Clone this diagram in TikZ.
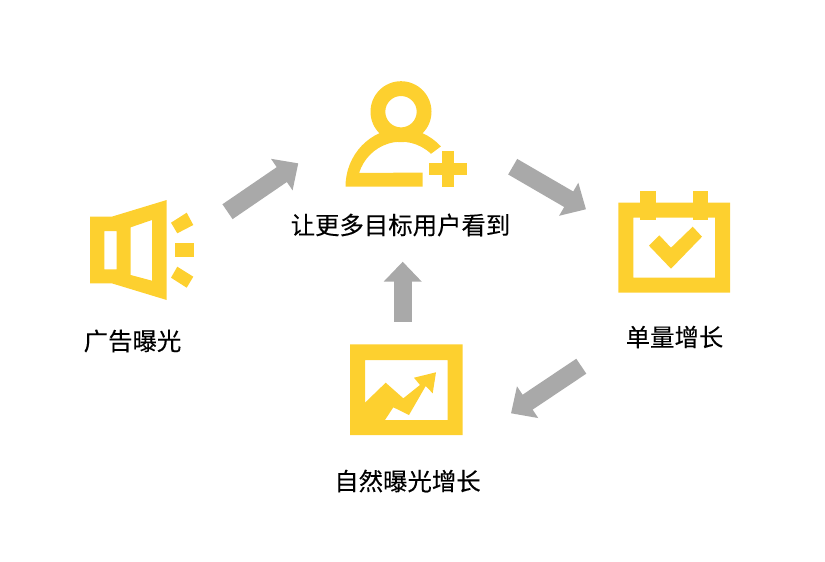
\documentclass[tikz,border=0pt]{standalone}
\usepackage{fontspec}
\usepackage{xcolor}
\usepackage{tikz}
\usetikzlibrary{arrows.meta, positioning}
\newfontfamily\cjk[FakeBold=0.15]{Noto Sans CJK SC}
\definecolor{iconyellow}{HTML}{FDD02F}
\definecolor{arrowgray}{HTML}{A9A9A9}
\tikzset{
  icon/.style={fill=iconyellow, even odd rule},
  grayarrow/.style={draw=arrowgray, line width=18pt, -{Triangle[length=20pt,width=37pt,fill=arrowgray]}},
  caption/.style={font=\cjk\fontsize{24.4}{28}\selectfont, text=black, inner sep=0pt}
}
\begin{document}
\begin{tikzpicture}[x=1pt, y=-1pt]
        \useasboundingbox (0,0) rectangle (825,562);

        % megaphone
        \fill[icon] (90,216.7) -- (111.7,216.7) -- (166.7,200) -- (166.7,300) -- (111.7,283.3) -- (90,283.3) -- cycle
            (104.3,231) rectangle (116.7,269.3)
            (130.7,227.3) -- (152,220) -- (152,280.7) -- (130.7,275) -- cycle;
        \fill[icon] (171,222.7) -- (186.7,212.7) -- (193.3,225) -- (177.3,233.3) -- cycle;
        \fill[icon] (174.7,243.3) rectangle (193.7,257.3);
        \fill[icon] (177.3,266.7) -- (193.3,276.7) -- (186.7,287.7) -- (171,277.7) -- cycle;

        % person
        \fill[icon] (401,111.7) circle[radius=30.5pt] (401,111.7) circle[radius=15.7pt];
        \fill[iconyellow] (345.5,186.7) arc[start angle=180, end angle=44, x radius=55.5pt, y radius=58pt]
            -- (431,153.8) arc[start angle=47, end angle=162, x radius=44pt, y radius=45pt]
            -- (422.7,172.7) -- (422.7,186.7) -- cycle;
        \fill[icon] (428.7,162.7) rectangle (466.7,174.7);
        \fill[icon] (441.7,151) rectangle (454,186.7);

        % calendar
        \fill[icon] (618.3,202.7) rectangle (730,292.7) (633.3,217.7) rectangle (715,277.7);
        \fill[icon] (640,191) rectangle (655.7,220);
        \fill[icon] (692.7,191) rectangle (708.3,220);
        \fill[icon] (649,245.7) -- (659.3,235.3) -- (671,247.7) -- (692.7,226.7) -- (702,236.7) -- (671,268.7) -- cycle;

        % chart
        \fill[icon] (350,344.3) rectangle (462.7,435) (365,360) rectangle (447.7,420);
        \fill[icon] (365,402.7) -- (385.7,382.7) -- (403.3,398.3) -- (420,385) -- (414,377.7) -- (436,372.3) -- (432.7,393.3)
            -- (425.7,386) -- (409,415) -- (393.3,407.3) -- (385,420) -- (365,420) -- cycle;

        \node[caption] (ad) at (132.5,341) {广告曝光};
        \node[caption] (reach) at (400.5,225) {让更多目标用户看到};
        \node[caption] (orders) at (674.5,337) {单量增长};
        \node[caption] (organic) at (407.5,481) {自然曝光增长};

        \coordinate (a1) at (227.5,211.7);
        \coordinate (a2) at (298.3,163.3);
        \coordinate (b1) at (512.7,166.7);
        \coordinate (b2) at (586,209.3);
        \coordinate (c1) at (581.3,366.2);
        \coordinate (c2) at (511,413.3);
        \coordinate (d1) at (402.7,321.7);
        \coordinate (d2) at (402.7,261.7);

        \draw[grayarrow] (a1) -- (a2);
        \draw[grayarrow] (b1) -- (b2);
        \draw[grayarrow] (c1) -- (c2);
        \draw[grayarrow] (d1) -- (d2);
    \end{tikzpicture}
\end{document}
